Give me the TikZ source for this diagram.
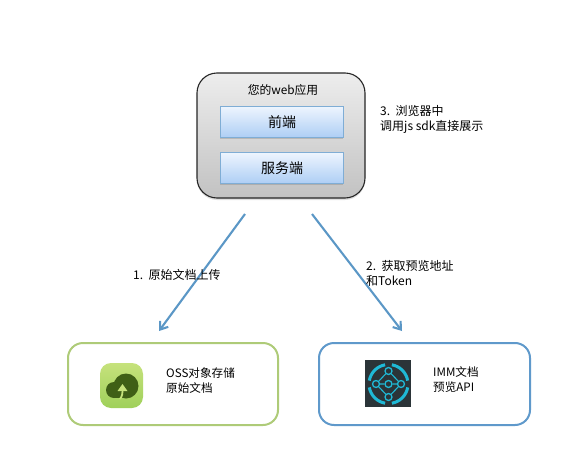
\documentclass[tikz,border=0pt]{standalone}
\usepackage{fontspec}
\setmainfont{Noto Sans CJK SC}
\usetikzlibrary{shadows,arrows.meta}
\definecolor{flowblue}{HTML}{5B97C6}
\definecolor{boxgreen}{HTML}{AECB78}
\definecolor{boxblue}{HTML}{5F99CB}
\definecolor{layertop}{HTML}{EEF5FE}
\definecolor{layerbot}{HTML}{AFCFF5}
\definecolor{icontop}{HTML}{C6E27C}
\definecolor{iconbot}{HTML}{9FD05A}
\definecolor{cloudgreen}{HTML}{3F5F16}
\definecolor{immcyan}{HTML}{1FB9D6}
\definecolor{immdark}{HTML}{2B3438}
\tikzset{
    % --- boxes ---
    app_box/.style={draw=black!85, line width=1.1pt, rounded corners=20pt, top color=black!7, bottom color=black!24,
                    drop shadow={opacity=.25, shadow xshift=0pt, shadow yshift=-2pt}},
    layer_box/.style={draw=boxblue!80, line width=1pt, top color=layertop, bottom color=layerbot,
                    drop shadow={opacity=.35, shadow xshift=0pt, shadow yshift=-1.5pt}},
    store_box/.style={draw=boxgreen, fill=white, line width=2pt, rounded corners=15pt},
    imm_box/.style={draw=boxblue, fill=white, line width=2pt, rounded corners=15pt},
    % --- text ---
    label_text/.style={inner sep=0pt, anchor=west, align=left, font=\fontsize{11.6}{15}\selectfont},
    step_text/.style={label_text, font=\fontsize{12}{15}\selectfont},
    layer_text/.style={inner sep=0pt, font=\fontsize{14}{16}\selectfont},
    % --- arrows ---
    flow/.style={draw=flowblue, line width=2.1pt, -{Straight Barb[length=7pt,width=10pt]}},
    imm_dot/.style={circle, draw=immcyan, line width=1.3pt, minimum size=7pt, inner sep=0pt}
}
\begin{document}
\begin{tikzpicture}[x=1pt,y=-1pt]
    \useasboundingbox (0,0) rectangle (584,471);

    % web app
    \path[app_box] (197,73) rectangle (365,198);
    \node[inner sep=0pt, font=\fontsize{11.8}{14}\selectfont] (app_title) at (283,90) {您的web应用};
    \path[layer_box] (220,106) rectangle (343,137);
    \path[layer_box] (220,152) rectangle (343,183);
    \node[layer_text] (front_end) at (282,122) {前端};
    \node[layer_text] (back_end) at (282,168) {服务端};
    \node[step_text] (step_three) at (380,119) {3.\ \ 浏览器中\\调用js sdk直接展示};

    % bottom boxes
    \path[store_box] (68,343) rectangle (278,425);
    \path[imm_box] (319,343) rectangle (530,425);
    \node[label_text] (oss_text) at (166,380.5) {OSS对象存储\\原始文档};
    \node[label_text] (imm_text) at (433,380) {IMM文档\\预览API};

    % oss icon
    \path[rounded corners=11pt, top color=icontop, bottom color=iconbot] (100,363) rectangle (143,408);
    \fill[cloudgreen] (126,386) circle (12.5);
    \fill[cloudgreen] (114,390) circle (8);
    \fill[cloudgreen] (114,386) rectangle (128,398);
    \draw[icontop, line width=1.8pt] (120,399) .. controls (122.5,396) and (122.5,393) .. (122.5,389);
    \fill[icontop] (122.5,384) -- (127.5,391) -- (117.5,391) -- cycle;

    % imm icon
    \fill[immdark] (365,360) rectangle (411,407);
    \foreach \a in {80,350,260,170}
        \draw[immcyan, line width=3pt] (388.5,384) ++(\a:19.5) arc[start angle=\a, delta angle=-70, radius=19.5];
    \node[imm_dot] (dot_top) at (388.5,371) {};
    \node[imm_dot] (dot_left) at (376,384) {};
    \node[imm_dot] (dot_mid) at (388.5,384) {};
    \node[imm_dot] (dot_right) at (401,384) {};
    \node[imm_dot] (dot_bot) at (388.5,397) {};
    \draw[immcyan, line width=1.1pt] (dot_top) -- (dot_left) -- (dot_bot) -- (dot_right) -- (dot_top)
        (dot_left) -- (dot_mid) -- (dot_right);

    % arrows
    \coordinate (upload_from) at (245,214);
    \coordinate (upload_to) at (159,331);
    \coordinate (preview_from) at (312,214);
    \coordinate (preview_to) at (402,331);
    \draw[flow] (upload_from) -- (upload_to);
    \draw[flow] (preview_from) -- (preview_to);

    \node[step_text] (step_one) at (133,275) {1.\ \ 原始文档上传};
    \node[step_text] (step_two) at (366,273) {2.\ \ 获取预览地址\\和Token};
\end{tikzpicture}
\end{document}
